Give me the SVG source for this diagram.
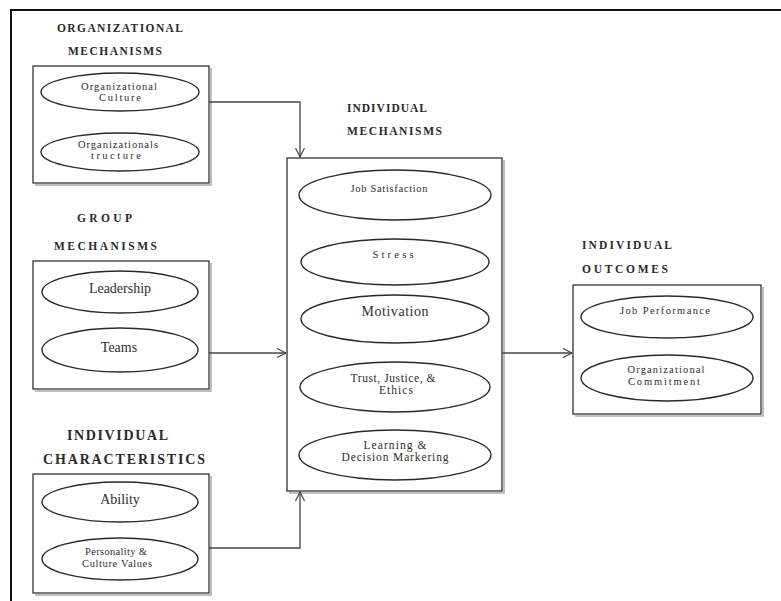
<svg xmlns="http://www.w3.org/2000/svg" width="781" height="601" viewBox="0 0 781 601">
<defs>
<style>
.frame{stroke:#111;stroke-width:2;fill:none}
.box{fill:#fff;stroke:#333;stroke-width:1.3}
.shadow{fill:none;stroke:#aaa;stroke-width:1.5}
.ell{fill:#fff;stroke:#2a2a2a;stroke-width:1.4}
.head{font-family:"Liberation Serif",serif;font-weight:bold;font-size:11.5px;fill:#2a2a2a}
.head2{font-family:"Liberation Serif",serif;font-weight:bold;font-size:14px;fill:#2a2a2a}
.lbl{font-family:"Liberation Serif",serif;font-size:10.5px;fill:#2e2e2e;text-anchor:middle}
.lbl3{font-family:"Liberation Serif",serif;font-size:11.5px;fill:#2e2e2e;text-anchor:middle}
.lbl2{font-family:"Liberation Serif",serif;font-size:14px;fill:#2e2e2e;text-anchor:middle}
.conn{fill:none;stroke:#444;stroke-width:1.3}
</style>
<marker id="arr" markerWidth="12" markerHeight="12" refX="10" refY="6" orient="auto" markerUnits="userSpaceOnUse">
<path d="M1,1.5 L10,6 L1,10.5" fill="none" stroke="#444" stroke-width="1.2"/>
</marker>
</defs>
<rect width="781" height="601" fill="#fff"/>
<path class="frame" d="M11,601 V10 H781"/>

<g id="org-mechanisms">
<text class="head" x="57" y="32" textLength="126" lengthAdjust="spacing">ORGANIZATIONAL</text>
<text class="head" x="68" y="55" textLength="94" lengthAdjust="spacing">MECHANISMS</text>
<path class="shadow" d="M35,185 H211 V68"/>
<rect class="box" x="33" y="66" width="176" height="117"/>
<ellipse class="ell" cx="120" cy="92" rx="79" ry="19"/>
<text class="lbl" x="119" y="90" textLength="76" lengthAdjust="spacing">Organizational</text>
<text class="lbl" x="120" y="101" textLength="42" lengthAdjust="spacing">Culture</text>
<ellipse class="ell" cx="120" cy="152" rx="79" ry="19"/>
<text class="lbl" x="118" y="148" textLength="80" lengthAdjust="spacing">Organizationals</text>
<text class="lbl" x="116" y="159" textLength="50" lengthAdjust="spacing">tructure</text>
</g>

<g id="group-mechanisms">
<text class="head" x="77" y="222" textLength="55" lengthAdjust="spacing">GROUP</text>
<text class="head" x="54" y="250" textLength="103" lengthAdjust="spacing">MECHANISMS</text>
<path class="shadow" d="M35,391 H211 V263"/>
<rect class="box" x="33" y="261" width="176" height="128"/>
<ellipse class="ell" cx="120" cy="292" rx="78" ry="21"/>
<text class="lbl2" x="120" y="293">Leadership</text>
<ellipse class="ell" cx="120" cy="350" rx="78" ry="22"/>
<text class="lbl2" x="119" y="352">Teams</text>
</g>

<g id="individual-characteristics">
<text class="head2" x="67" y="440" textLength="101" lengthAdjust="spacing">INDIVIDUAL</text>
<text class="head2" x="43" y="464" textLength="162" lengthAdjust="spacing">CHARACTERISTICS</text>
<path class="shadow" d="M35,595 H211 V476"/>
<rect class="box" x="33" y="474" width="176" height="119"/>
<ellipse class="ell" cx="120" cy="502" rx="78" ry="20"/>
<text class="lbl2" x="120" y="504">Ability</text>
<ellipse class="ell" cx="120" cy="559" rx="78" ry="21"/>
<text class="lbl" x="116" y="555" textLength="62" lengthAdjust="spacing">Personality &amp;</text>
<text class="lbl" x="117" y="567" textLength="70" lengthAdjust="spacing">Culture Values</text>
</g>

<g id="individual-mechanisms">
<text class="head" x="347" y="112" textLength="80" lengthAdjust="spacing">INDIVIDUAL</text>
<text class="head" x="347" y="135" textLength="95" lengthAdjust="spacing">MECHANISMS</text>
<path class="shadow" d="M289,493 H504 V160"/>
<rect class="box" x="287" y="158" width="215" height="333"/>
<ellipse class="ell" cx="395" cy="195" rx="96" ry="25"/>
<text class="lbl" x="389" y="192" textLength="77" lengthAdjust="spacing">Job Satisfaction</text>
<ellipse class="ell" cx="395" cy="262" rx="94" ry="23"/>
<text class="lbl" x="393" y="258" textLength="41" lengthAdjust="spacing">Stress</text>
<ellipse class="ell" cx="395" cy="319" rx="94" ry="24"/>
<text class="lbl2" x="395" y="316" textLength="67" lengthAdjust="spacing">Motivation</text>
<ellipse class="ell" cx="395" cy="387" rx="95" ry="25"/>
<text class="lbl3" x="393" y="382" textLength="85" lengthAdjust="spacing">Trust, Justice, &amp;</text>
<text class="lbl3" x="396" y="394" textLength="34" lengthAdjust="spacing">Ethics</text>
<ellipse class="ell" cx="395" cy="455" rx="96" ry="25"/>
<text class="lbl3" x="395" y="449" textLength="63" lengthAdjust="spacing">Learning &amp;</text>
<text class="lbl3" x="395" y="461" textLength="107" lengthAdjust="spacing">Decision Markering</text>
</g>

<g id="individual-outcomes">
<text class="head" x="582" y="249" textLength="90" lengthAdjust="spacing">INDIVIDUAL</text>
<text class="head" x="582" y="273" textLength="86" lengthAdjust="spacing">OUTCOMES</text>
<path class="shadow" d="M575,416 H763 V287"/>
<rect class="box" x="573" y="285" width="188" height="129"/>
<ellipse class="ell" cx="667" cy="317" rx="86" ry="21"/>
<text class="lbl" x="665" y="314" textLength="90" lengthAdjust="spacing">Job Performance</text>
<ellipse class="ell" cx="667" cy="378" rx="86" ry="23"/>
<text class="lbl" x="666" y="373" textLength="77" lengthAdjust="spacing">Organizational</text>
<text class="lbl" x="664" y="385" textLength="72" lengthAdjust="spacing">Commitment</text>
</g>

<g id="connectors">
<path class="conn" d="M209,102 H300 V157" marker-end="url(#arr)"/>
<path class="conn" d="M209,353 H286" marker-end="url(#arr)"/>
<path class="conn" d="M209,548 H300 V492" marker-end="url(#arr)"/>
<path class="conn" d="M502,353 H572" marker-end="url(#arr)"/>
</g>
</svg>
